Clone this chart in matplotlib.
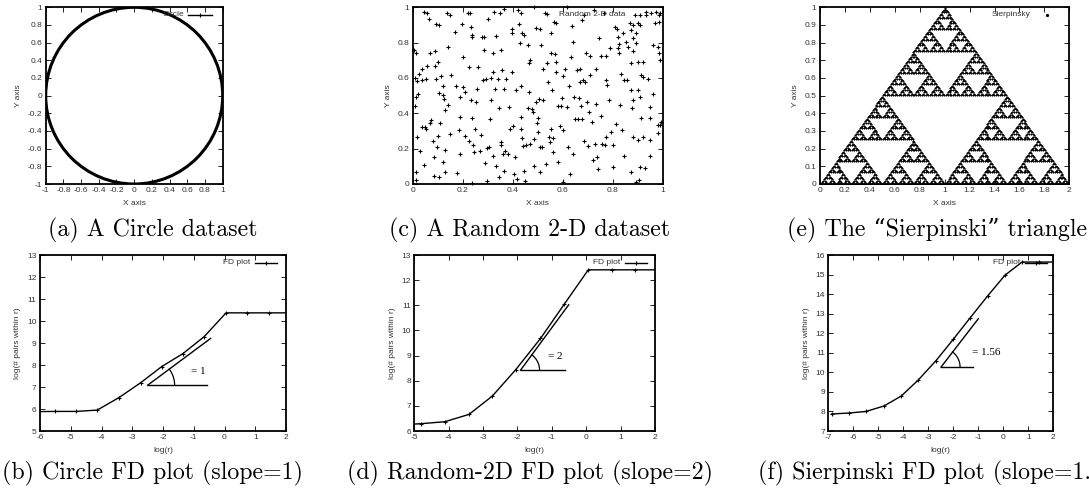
import numpy as np
import matplotlib
matplotlib.use("Agg")
import matplotlib.pyplot as plt
from matplotlib.lines import Line2D
from matplotlib.patches import Circle
from matplotlib.ticker import FuncFormatter

plt.rcParams["font.family"] = ["Liberation Sans", "DejaVu Sans"]
plt.rcParams["axes.unicode_minus"] = False

W, H = 1089, 494

# ---- data ----
circle_center = (0.0, 0.0)
circle_radius = 1.0

# random 2-D points (x, y)
random_points = [
    (0.007, 0.761), (0.012, 0.739), (0.010, 0.602), (0.016, 0.583), (0.012, 0.492), (0.010, 0.439),
    (0.012, 0.066), (0.014, 0.023), (0.019, 0.265), (0.023, 0.511), (0.026, 0.621), (0.030, 0.186),
    (0.037, 0.587), (0.053, 0.597), (0.039, 0.648), (0.057, 0.667), (0.039, 0.322), (0.050, 0.322),
    (0.054, 0.314), (0.044, 0.110), (0.046, 0.972), (0.057, 0.970), (0.064, 0.932), (0.071, 0.739),
    (0.075, 0.360), (0.071, 0.347), (0.082, 0.246), (0.086, 0.152), (0.084, 0.047), (0.091, 0.754),
    (0.088, 0.669), (0.095, 0.905), (0.105, 0.900), (0.093, 0.593), (0.098, 0.208), (0.101, 0.691),
    (0.102, 0.269), (0.105, 0.515), (0.109, 0.348), (0.107, 0.038), (0.112, 0.610), (0.121, 0.502),
    (0.122, 0.553), (0.125, 0.483), (0.122, 0.123), (0.128, 0.417), (0.128, 0.193), (0.129, 0.070),
    (0.139, 0.966), (0.148, 0.958), (0.143, 0.777), (0.143, 0.445), (0.148, 0.284), (0.155, 0.616),
    (0.170, 0.858), (0.173, 0.555), (0.177, 0.061), (0.186, 0.307), (0.189, 0.167), (0.190, 0.492),
    (0.189, 0.379), (0.197, 0.905), (0.199, 0.549), (0.201, 0.720), (0.207, 0.521), (0.207, 0.269),
    (0.220, 0.970), (0.227, 0.966), (0.223, 0.663), (0.224, 0.246), (0.231, 0.473), (0.234, 0.890),
    (0.237, 0.830), (0.238, 0.843), (0.238, 0.375), (0.239, 0.220), (0.237, 0.004), (0.245, 0.180),
    (0.248, 0.313), (0.254, 0.464), (0.257, 0.540), (0.261, 0.663), (0.268, 0.186), (0.271, 0.275),
    (0.275, 0.833), (0.286, 0.830), (0.282, 0.587), (0.286, 0.758), (0.293, 0.595), (0.288, 0.117),
    (0.295, 0.019), (0.298, 0.205), (0.302, 0.932), (0.305, 0.212), (0.309, 0.369), (0.312, 0.602),
    (0.312, 0.473), (0.320, 0.739), (0.324, 0.975), (0.322, 0.161), (0.322, 0.634), (0.327, 0.540),
    (0.332, 0.837), (0.333, 0.100), (0.340, 0.597), (0.346, 0.432), (0.343, 0.038), (0.350, 0.966),
    (0.352, 0.761), (0.352, 0.237), (0.352, 0.223), (0.356, 0.644), (0.359, 0.170), (0.363, 0.540),
    (0.363, 0.076), (0.366, 0.989), (0.367, 0.184), (0.373, 0.597), (0.381, 0.170), (0.386, 0.436),
    (0.390, 0.313), (0.395, 0.852), (0.397, 0.875), (0.397, 0.634), (0.400, 0.326), (0.403, 0.057),
    (0.408, 0.152), (0.411, 0.530), (0.418, 0.028), (0.422, 0.985), (0.424, 0.905), (0.427, 0.799),
    (0.431, 0.970), (0.431, 0.379), (0.431, 0.313), (0.434, 0.553), (0.438, 0.852), (0.445, 0.843),
    (0.438, 0.261), (0.442, 0.214), (0.445, 0.076), (0.449, 0.019), (0.452, 0.218), (0.459, 0.432),
    (0.461, 0.786), (0.465, 0.686), (0.469, 0.701), (0.465, 0.521), (0.469, 0.227), (0.476, 0.426),
    (0.479, 0.407), (0.483, 1.000), (0.483, 0.104), (0.486, 0.256), (0.493, 0.881), (0.493, 0.464),
    (0.495, 0.345), (0.499, 0.375), (0.502, 0.292), (0.503, 0.483), (0.509, 0.875), (0.509, 0.066),
    (0.509, 0.208), (0.514, 0.786), (0.517, 0.208), (0.520, 0.653), (0.522, 0.473), (0.527, 0.970),
    (0.537, 0.962), (0.531, 0.114), (0.537, 0.686), (0.540, 0.578), (0.543, 0.265), (0.550, 0.237),
    (0.554, 0.856), (0.554, 0.739), (0.554, 0.313), (0.558, 0.530), (0.561, 0.259), (0.561, 0.180),
    (0.563, 0.919), (0.567, 0.733), (0.571, 0.909), (0.571, 0.691), (0.574, 0.634), (0.581, 0.123),
    (0.581, 0.439), (0.588, 0.331), (0.592, 0.439), (0.597, 0.489), (0.599, 0.610), (0.599, 0.303),
    (0.601, 0.009), (0.608, 0.653), (0.615, 1.000), (0.615, 0.436), (0.619, 0.208), (0.623, 0.553),
    (0.629, 0.057), (0.633, 0.720), (0.637, 0.894), (0.639, 0.167), (0.642, 0.805), (0.646, 0.492),
    (0.649, 0.369), (0.656, 0.644), (0.660, 0.369), (0.664, 0.489), (0.668, 0.578), (0.669, 0.653),
    (0.672, 0.439), (0.676, 0.928), (0.676, 0.369), (0.680, 0.587), (0.683, 0.956), (0.683, 0.246),
    (0.690, 0.578), (0.694, 0.739), (0.697, 0.464), (0.701, 0.214), (0.703, 0.407), (0.707, 0.616),
    (0.710, 0.723), (0.717, 0.350), (0.721, 0.133), (0.724, 0.985), (0.727, 0.227), (0.731, 0.653),
    (0.731, 0.455), (0.737, 0.152), (0.740, 0.085), (0.744, 0.824), (0.751, 0.723), (0.754, 0.383),
    (0.758, 0.227), (0.765, 0.970), (0.767, 0.218), (0.771, 0.723), (0.771, 0.587), (0.774, 0.265),
    (0.778, 0.559), (0.785, 0.473), (0.789, 0.767), (0.792, 0.294), (0.799, 0.218), (0.799, 0.095),
    (0.810, 0.890), (0.812, 0.341), (0.815, 0.875), (0.819, 0.833), (0.822, 0.767), (0.823, 0.739),
    (0.826, 0.795), (0.830, 0.445), (0.833, 0.621), (0.835, 0.303), (0.839, 0.852), (0.844, 0.587),
    (0.846, 0.161), (0.853, 0.805), (0.857, 0.587), (0.860, 0.777), (0.867, 0.913), (0.871, 0.682),
    (0.873, 0.534), (0.887, 0.956), (0.907, 0.956), (0.934, 0.975), (0.954, 0.966), (0.974, 0.975),
    (0.984, 0.956), (0.987, 0.970), (0.880, 0.900), (0.900, 0.909), (0.907, 0.900), (0.874, 0.872),
    (0.894, 0.853), (0.967, 0.913), (0.984, 0.919), (0.880, 0.824), (0.894, 0.796), (0.960, 0.787),
    (0.980, 0.777), (0.880, 0.755), (0.984, 0.740), (0.989, 0.702), (0.900, 0.692), (0.920, 0.692),
    (0.914, 0.617), (0.920, 0.604), (0.940, 0.592), (0.900, 0.532), (0.960, 0.508), (0.880, 0.475),
    (0.907, 0.494), (0.878, 0.428), (0.947, 0.438), (0.993, 0.353), (0.914, 0.372), (0.947, 0.372),
    (0.980, 0.334), (0.990, 0.334), (0.880, 0.268), (0.920, 0.268), (0.980, 0.287), (0.900, 0.249),
    (0.947, 0.249), (0.947, 0.159), (0.907, 0.098), (0.927, 0.089), (0.874, 0.070), (0.894, 0.013),
    (0.904, 0.023),
]
random_x = [p[0] for p in random_points]
random_y = [p[1] for p in random_points]

sierpinski_corners = [(0.0, 0.0), (2.0, 0.0), (1.0, 1.0)]
sierpinski_depth = 7

circle_fd_x = [-6.20, -5.51, -4.82, -4.14, -3.43, -2.73, -2.04, -1.35, -0.66, 0.05, 0.74, 1.44, 2.13]
circle_fd_y = [5.88, 5.89, 5.89, 5.95, 6.52, 7.19, 7.93, 8.52, 9.29, 10.37, 10.37, 10.37, 10.37]

random_fd_x = [-5.50, -4.81, -4.11, -3.41, -2.73, -2.05, -1.33, -0.64, 0.06, 0.74, 1.43, 2.12]
random_fd_y = [6.24, 6.29, 6.37, 6.66, 7.39, 8.44, 9.68, 11.04, 12.41, 12.41, 12.41, 12.41]

sierp_fd_x = [-6.87, -6.16, -5.49, -4.77, -4.08, -3.40, -2.69, -2.00, -1.33, -0.63, 0.07, 0.75, 1.44, 2.13]
sierp_fd_y = [7.87, 7.92, 8.00, 8.28, 8.79, 9.61, 10.60, 11.69, 12.78, 13.90, 14.97, 15.64, 15.64, 15.64]

# slope guides: origin, end of sloped line, end of base line, label position, label, arc radius (px)
slope_b = ((-2.50, 7.08), (-0.45, 9.21), -0.56, (-1.10, 7.72), "= 1", 27)
slope_d = ((-1.91, 8.42), (-0.51, 11.02), -0.62, (-1.10, 8.97), "= 2", 19)
slope_f = ((-2.49, 10.27), (-1.00, 12.74), -1.20, (-1.25, 11.0), "= 1.56", 19)

captions = ["(a) A Circle dataset", "(c) A Random 2-D dataset", "(e) The \u201cSierpinski\u201d triangle",
            "(b) Circle FD plot (slope=1)", "(d) Random-2D FD plot (slope=2)",
            "(f) Sierpinski FD plot (slope=1.56)"]
# captions centred under their column
caption_pos = [(153, 230), (530, 230), (937, 230), (153, 473), (530, 473), (941, 473)]

fig = plt.figure(figsize=(W / 100, H / 100), dpi=100)


def px_axes(l, r, t, b):
    return fig.add_axes([l / W, 1 - b / H, (r - l) / W, (b - t) / H])


def style(ax, xlim, ylim, xstep, ystep, xlabel, ylabel):
    ax.set_xlim(*xlim)
    ax.set_ylim(*ylim)
    ax.set_xticks(np.arange(xlim[0], xlim[1] + xstep / 2, xstep))
    ax.set_yticks(np.arange(ylim[0], ylim[1] + ystep / 2, ystep))
    fmt = FuncFormatter(lambda v, p: "%g" % (round(v, 6) + 0.0))
    ax.xaxis.set_major_formatter(fmt)
    ax.yaxis.set_major_formatter(fmt)
    ax.tick_params(direction="in", length=3.5, width=0.6, top=True, right=True,
                   labelsize=6, pad=2.5, colors="black", labelcolor="#333333")
    for s in ax.spines.values():
        s.set_linewidth(1.3)
    ax.set_xlabel(xlabel, fontsize=6, labelpad=4, color="#333333")
    ax.set_ylabel(ylabel, fontsize=6, labelpad=4, color="#333333")


def key(label, text_right, x0, x1, y, marker, line=True):
    fig.text(text_right / W, 1 - y / H, label, ha="right", va="center", fontsize=6, color="#333333")
    if line:
        fig.add_artist(Line2D([x0 / W, x1 / W], [1 - y / H, 1 - y / H], color="black", lw=1.0,
                              transform=fig.transFigure))
    xm = (x0 + x1) / 2
    fig.add_artist(Line2D([xm / W], [1 - y / H], marker=marker, ms=3, mew=0.8, color="black",
                          transform=fig.transFigure))


def slope_guide(ax, guide):
    (x0, y0), (x1, y1), xh, (lx, ly), label, r = guide
    ax.plot([x0, x1], [y0, y1], color="black", lw=1.0)
    ax.plot([x0, xh], [y0, y0], color="black", lw=1.0)
    p0 = ax.transData.transform((x0, y0))
    p1 = ax.transData.transform((x1, y1))
    ang = np.arctan2(p1[1] - p0[1], p1[0] - p0[0])
    t = np.linspace(0, ang, 30)
    pts = np.column_stack([p0[0] + r * np.cos(t), p0[1] + r * np.sin(t)])
    d = ax.transData.inverted().transform(pts)
    ax.plot(d[:, 0], d[:, 1], color="black", lw=0.9)
    ax.text(lx, ly, label, fontsize=8, family=["Liberation Serif"], va="center")


def sierpinski(tri, depth):
    if depth == 0:
        return [tri]
    a, b, c = tri
    ab, bc, ca = (a + b) / 2, (b + c) / 2, (c + a) / 2
    return (sierpinski(np.array([a, ab, ca]), depth - 1) + sierpinski(np.array([ab, b, bc]), depth - 1)
            + sierpinski(np.array([ca, bc, c]), depth - 1))


# (a) circle
ax = px_axes(45.7, 222.7, 7.3, 184)
ax.add_patch(Circle(circle_center, circle_radius, fill=False, lw=2.2, ec="black"))
style(ax, (-1, 1), (-1, 1), 0.2, 0.2, "X axis", "Y axis")
key("Circle", 184, 188, 212, 15, "+")

# (c) random 2-D
ax = px_axes(412.7, 663, 7.3, 184)
ax.plot(random_x, random_y, "+", color="black", ms=3, mew=0.8, clip_on=False)
style(ax, (0, 1), (0, 1), 0.2, 0.2, "X axis", "Y axis")
key("Random 2-D data", 625, 640, 652, 15, "+", line=False)

# (e) sierpinski
ax = px_axes(820, 1069.3, 7.3, 184)
tris = sierpinski(np.array(sierpinski_corners), sierpinski_depth)
cent = np.array([t.mean(axis=0) for t in tris])
ax.plot(cent[:, 0], cent[:, 1], "+", color="black", ms=2.0, mew=0.8)
style(ax, (0, 2), (0, 1), 0.2, 0.1, "X axis", "Y axis")
key("Sierpinsky", 1031, 1040, 1054, 15, ".", line=False)

# (b) circle FD
ax = px_axes(40, 286, 255, 431)
style(ax, (-6, 2), (5, 13), 1, 1, "log(r)", "log(# pairs within r)")
ax.plot(circle_fd_x, circle_fd_y, "-+", color="black", lw=1.0, ms=3, mew=0.8)
slope_guide(ax, slope_b)
key("FD plot", 250, 255, 277, 263, "+")

# (d) random FD
ax = px_axes(414.3, 655, 255, 431)
style(ax, (-5, 2), (6, 13), 1, 1, "log(r)", "log(# pairs within r)")
ax.plot(random_fd_x, random_fd_y, "-+", color="black", lw=1.0, ms=3, mew=0.8)
slope_guide(ax, slope_d)
key("FD plot", 620, 625, 647, 263, "+")

# (f) sierpinski FD
ax = px_axes(828.3, 1053.3, 255, 431)
style(ax, (-7, 2), (7, 16), 1, 1, "log(r)", "log(# pairs within r)")
ax.plot(sierp_fd_x, sierp_fd_y, "-+", color="black", lw=1.0, ms=3, mew=0.8)
slope_guide(ax, slope_f)
key("FD plot", 1020, 1025, 1047, 263, "+")

for text, (x, y) in zip(captions, caption_pos):
    fig.text(x / W, 1 - y / H, text, ha="center", va="center", fontsize=17.2,
             family=["cmr10", "DejaVu Serif"])

fig.savefig("out.png", dpi=100)
